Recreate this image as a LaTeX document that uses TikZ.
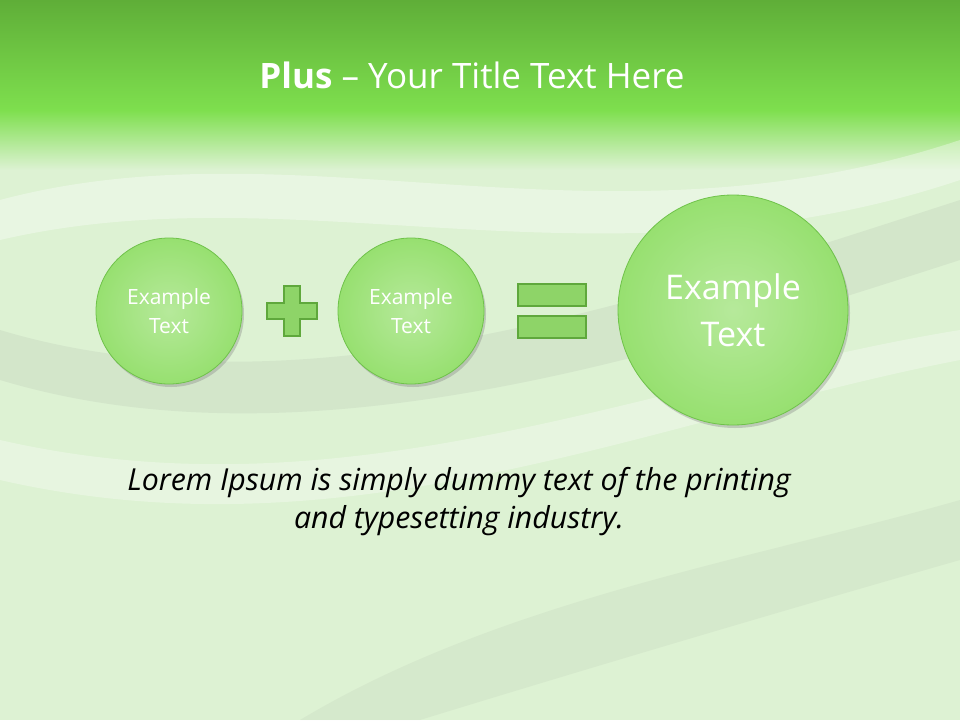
\documentclass[tikz,border=0pt]{standalone}
\usepackage{fontspec}
\setmainfont{Open Sans}
\usetikzlibrary{shadows}
\definecolor{topg}{HTML}{5FAE38}
\definecolor{bandg}{HTML}{7EDF4E}
\definecolor{bgg}{HTML}{DDF2D3}
\definecolor{circf}{HTML}{97E070}
\definecolor{circd}{HTML}{6FC24A}
\definecolor{signf}{HTML}{8ED468}
\definecolor{signd}{HTML}{5FA83C}
\tikzset{
  ball/.style={circle,draw=circd,line width=0.8pt,
     shading=radial,inner color=circf!70!white,outer color=circf,
     drop shadow={shadow xshift=2pt,shadow yshift=-3pt,opacity=0.35},
     text=white,align=center},
  sign/.style={fill=signf,draw=signd,line width=1.2pt},
}
\begin{document}
\begin{tikzpicture}[x=1pt,y=-1pt]
\useasboundingbox (0,0) rectangle (960,720);
\fill[bgg] (0,0) rectangle (960,720);
\shade[top color=topg,bottom color=bandg] (0,0) rectangle (960,110);
\shade[top color=bandg,bottom color=bgg] (0,110) rectangle (960,170);
\fill[white,opacity=0.35] (0,200) .. controls (300,120) and (600,260) .. (960,140) -- (960,180) .. controls (600,300) and (300,170) .. (0,240) -- cycle;
\fill[gray,opacity=0.10] (0,330) .. controls (300,420) and (650,300) .. (960,200) -- (960,260) .. controls (650,360) and (300,470) .. (0,380) -- cycle;
\fill[white,opacity=0.3] (0,440) .. controls (350,520) and (650,380) .. (960,330) -- (960,360) .. controls (650,420) and (350,560) .. (0,480) -- cycle;
\fill[gray,opacity=0.08] (300,720) .. controls (500,600) and (750,560) .. (960,500) -- (960,560) .. controls (750,620) and (550,680) .. (420,720) -- cycle;
\node[text=white,font=\fontsize{35}{40}\selectfont] (title) at (472,75) {\textbf{Plus} – Your Title Text Here};
\node[ball,minimum size=146pt,font=\fontsize{21}{29}\selectfont] (c1) at (169,311) {Example\\Text};
\node[ball,minimum size=146pt,font=\fontsize{21}{29}\selectfont] (c2) at (411,311) {Example\\Text};
\node[ball,minimum size=230pt,font=\fontsize{34}{47}\selectfont] (c3) at (733,310) {Example\\Text};
\draw[sign] (284,286) -- (300,286) -- (300,303) -- (317,303) -- (317,319) -- (300,319) -- (300,336) -- (284,336) -- (284,319) -- (267,319) -- (267,303) -- (284,303) -- cycle;
\draw[sign] (518,284) rectangle (586,306);
\draw[sign] (518,316) rectangle (586,338);
\node[align=center,font=\fontsize{30.3}{38}\selectfont\itshape] (lorem) at (459,502) {Lorem Ipsum is simply dummy text of the printing\\ and typesetting industry.};
\end{tikzpicture}
\end{document}
